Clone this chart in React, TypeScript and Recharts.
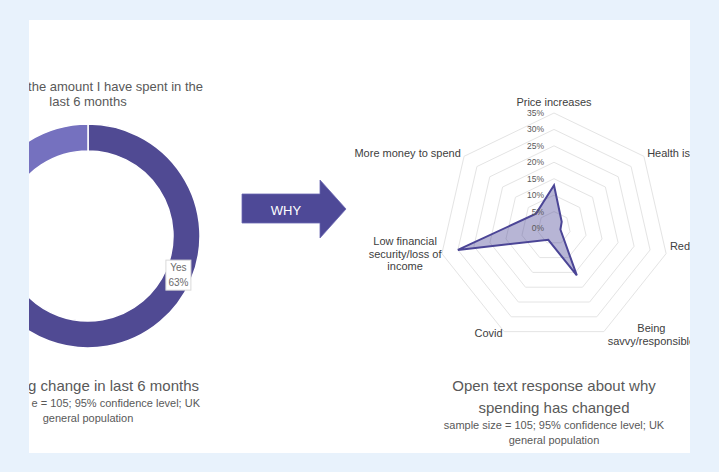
import React from 'react';
import { PieChart, Pie, Cell, RadarChart, Radar, PolarGrid, PolarAngleAxis, PolarRadiusAxis } from 'recharts';

const donutNames = ['Yes', 'No'];
const donutValues = [63, 37];
const donutColors = ['#504a93', '#7571bf'];
const labelledSlices = ['Yes'];

const reasonCategories = [
  'Price increases',
  'Health is',
  'Red',
  'Being savvy/responsible',
  'Covid',
  'Low financial security/loss of income',
  'More money to spend',
];
const reasonValues = [13, 3, 2, 16, 4, 30, 7];
const radiusTicks = [0, 5, 10, 15, 20, 25, 30, 35];

const labelLines: Record<number, string[]> = {
  3: ['Being', 'savvy/responsible'],
  5: ['Low financial', 'security/loss of', 'income'],
};

// label placement tweaks relative to the tick point the library gives
const labelLayout: { anchor: 'start' | 'middle' | 'end'; dx: number; dys: number[] }[] = [
  { anchor: 'middle', dx: 0, dys: [-3] },
  { anchor: 'start', dx: -3, dys: [2] },
  { anchor: 'start', dx: -4, dys: [-9] },
  { anchor: 'middle', dx: 44, dys: [-11, 2] },
  { anchor: 'end', dx: 2, dys: [-6] },
  { anchor: 'middle', dx: -29, dys: [-14, -1.5, 11] },
  { anchor: 'end', dx: 3, dys: [2] },
];

const donutData = donutNames.map((n, i) => ({ name: n, value: donutValues[i] }));
const radarData = reasonCategories.map((c, i) => ({ category: c, value: reasonValues[i] }));

const FONT = '"Liberation Sans", Arial, sans-serif';
const RAD = Math.PI / 180;

const AngleTick = (props: any) => {
  const { x, y, payload } = props;
  const idx = reasonCategories.indexOf(payload.value);
  const lay = labelLayout[idx] || { anchor: 'middle', dx: 0, dys: [0] };
  const lines = labelLines[idx] || [payload.value];
  return (
    <g>
      {lines.map((l, k) => (
        <text
          key={k}
          x={x + lay.dx}
          y={y + lay.dys[k]}
          textAnchor={lay.anchor}
          dominantBaseline="central"
          fontFamily={FONT}
          fontSize={11}
          fill="#404040"
        >
          {l}
        </text>
      ))}
    </g>
  );
};

const RadiusTick = (props: any) => {
  const { x, y, payload } = props;
  return (
    <text x={x - 10} y={y} textAnchor="end" dominantBaseline="central" fontFamily={FONT} fontSize={8.5} fill="#595959">
      {payload.value}%
    </text>
  );
};

const DonutLabel = (props: any) => {
  const { cx, cy, midAngle, innerRadius, outerRadius, name, value } = props;
  if (!labelledSlices.includes(name)) return null;
  const r = (innerRadius + outerRadius) / 2;
  const x = cx + r * Math.cos(-midAngle * RAD);
  const y = cy + r * Math.sin(-midAngle * RAD);
  return (
    <g>
      <rect x={x - 12.5} y={y - 15} width={25} height={30} fill="#ffffff" stroke="#d9d9d9" strokeWidth={1} />
      <text x={x} y={y - 7.5} textAnchor="middle" dominantBaseline="central" fontFamily={FONT} fontSize={10} fill="#6b6b6b">
        {name}
      </text>
      <text x={x} y={y + 7} textAnchor="middle" dominantBaseline="central" fontFamily={FONT} fontSize={10} fill="#6b6b6b">
        {value}%
      </text>
    </g>
  );
};

export default function App() {
  return (
    <div style={{ position: 'absolute', left: 0, top: 0, width: 719, height: 472, background: '#e8f2fc', overflow: 'hidden' }}>
      <div style={{ position: 'absolute', left: 29, top: 20, width: 661, height: 433, background: '#ffffff', overflow: 'hidden' }}>
        <div style={{ position: 'absolute', left: -91, top: 66 }}>
          <PieChart width={300} height={300} margin={{ top: 0, right: 0, bottom: 0, left: 0 }}>
            <Pie
              data={donutData}
              dataKey="value"
              nameKey="name"
              cx={150}
              cy={150}
              innerRadius={85}
              outerRadius={112}
              startAngle={90}
              endAngle={-270}
              stroke="#ffffff"
              strokeWidth={1.5}
              label={DonutLabel}
              labelLine={false}
              isAnimationActive={false}
            >
              {donutData.map((d, i) => (
                <Cell key={d.name} fill={donutColors[i]} />
              ))}
            </Pie>
          </PieChart>
        </div>
        <div style={{ position: 'absolute', left: 325, top: 28 }}>
          <RadarChart width={400} height={360} cx={200} cy={180} outerRadius={115} data={radarData} margin={{ top: 0, right: 0, bottom: 0, left: 0 }}>
            <PolarGrid gridType="polygon" radialLines={false} stroke="#e4e4e4" />
            <PolarAngleAxis dataKey="category" tick={AngleTick} axisLine={false} tickLine={false} />
            <PolarRadiusAxis
              angle={90}
              type="number"
              domain={[0, 35]}
              ticks={radiusTicks}
              axisLine={false}
              tickLine={false}
              tick={RadiusTick}
            />
            <Radar dataKey="value" stroke="#4b4596" strokeWidth={2} fill="#4b4596" fillOpacity={0.4} dot={false} isAnimationActive={false} />
          </RadarChart>
        </div>
        <svg width={661} height={433} style={{ position: 'absolute', left: 0, top: 0, pointerEvents: 'none' }}>
          <g fontFamily={FONT} fill="#595959">
            <text x={174} y={66} textAnchor="end" dominantBaseline="central" fontSize={13}>the amount I have spent in the</text>
            <text x={59} y={81} textAnchor="middle" dominantBaseline="central" fontSize={13}>last 6 months</text>
            <text x={170} y={365} textAnchor="end" dominantBaseline="central" fontSize={15}>g change in last 6 months</text>
            <text x={171} y={383} textAnchor="end" dominantBaseline="central" fontSize={11}>e = 105; 95% confidence level; UK</text>
            <text x={59} y={398} textAnchor="middle" dominantBaseline="central" fontSize={11}>general population</text>
            <text x={525} y={365} textAnchor="middle" dominantBaseline="central" fontSize={15}>Open text response about why</text>
            <text x={525} y={387} textAnchor="middle" dominantBaseline="central" fontSize={15}>spending has changed</text>
            <text x={525} y={405} textAnchor="middle" dominantBaseline="central" fontSize={11}>sample size = 105; 95% confidence level; UK</text>
            <text x={525} y={420} textAnchor="middle" dominantBaseline="central" fontSize={11}>general population</text>
          </g>
          <polygon points="213,174 291,174 291,160 317,189 291,218 291,203 213,203" fill="#4e4997" stroke="#6b67b3" strokeWidth={0.8} />
          <text x={257} y={190} textAnchor="middle" dominantBaseline="central" fontFamily={FONT} fontSize={13} fill="#ffffff">WHY</text>
        </svg>
      </div>
    </div>
  );
}
